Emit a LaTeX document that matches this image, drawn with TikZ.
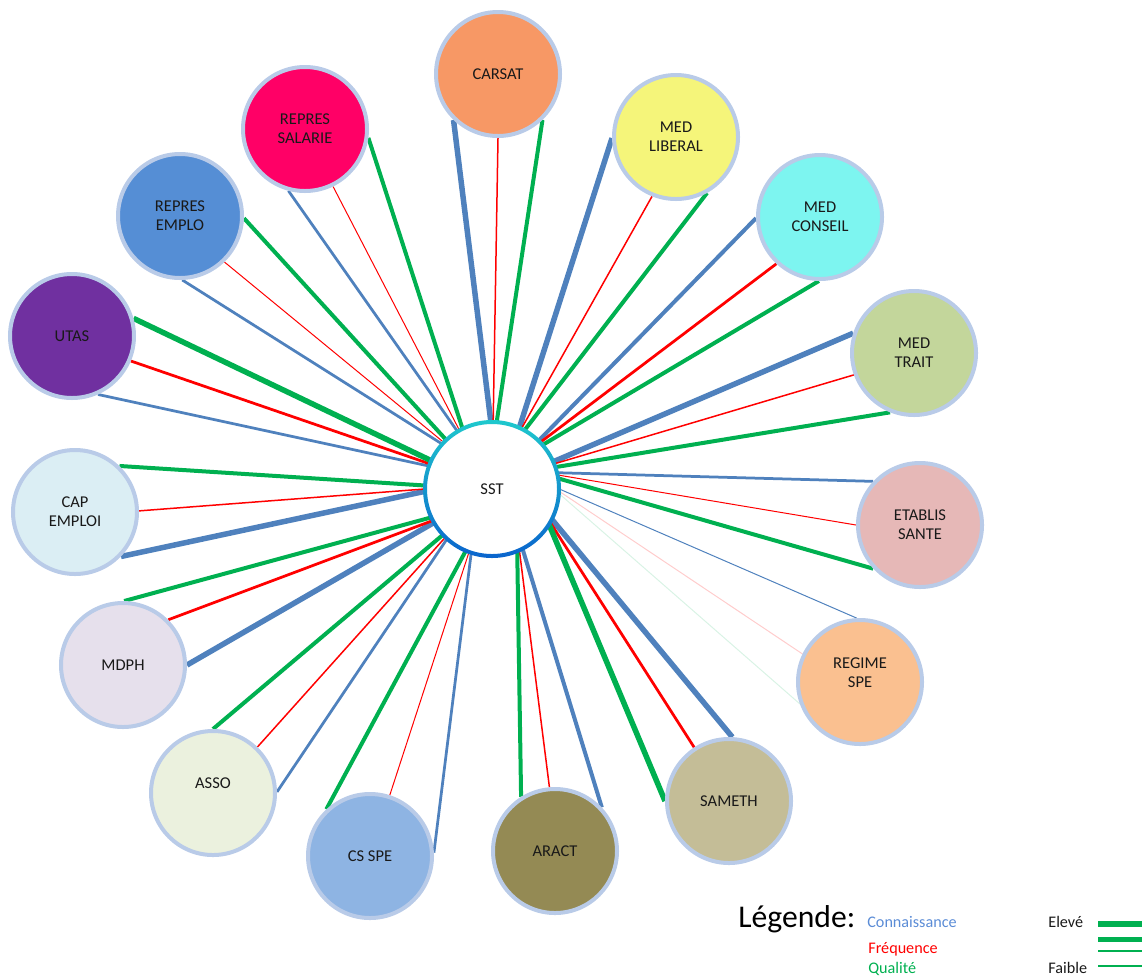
\documentclass[tikz,border=0pt]{standalone}
\usepackage{fontspec}
\setmainfont{Carlito}
\usepackage{tikz}
\usetikzlibrary{backgrounds}

\definecolor{connbleu}{RGB}{79,129,189}
\definecolor{freqrouge}{RGB}{255,0,0}
\definecolor{qualvert}{RGB}{0,176,80}
\definecolor{bord}{RGB}{185,203,232}
\definecolor{legbleu}{RGB}{91,140,214}
\definecolor{cCarsat}{RGB}{247,152,101}
\definecolor{cLiberal}{RGB}{245,245,122}
\definecolor{cConseil}{RGB}{125,245,240}
\definecolor{cTrait}{RGB}{195,214,155}
\definecolor{cEtablis}{RGB}{230,184,183}
\definecolor{cRegime}{RGB}{250,192,144}
\definecolor{cSameth}{RGB}{196,189,151}
\definecolor{cAract}{RGB}{148,138,84}
\definecolor{cCsspe}{RGB}{142,180,227}
\definecolor{cAsso}{RGB}{235,241,222}
\definecolor{cMdph}{RGB}{230,224,236}
\definecolor{cCap}{RGB}{219,238,244}
\definecolor{cUtas}{RGB}{112,48,160}
\definecolor{cEmplo}{RGB}{85,142,213}
\definecolor{cSalarie}{RGB}{255,0,102}

\tikzset{
  acteur/.style={circle, draw=bord, line width=0.8mm, minimum size=24.8mm,
    inner sep=0pt, align=center, text=black!90,
    font=\fontsize{9.4}{11}\selectfont},
  conn/.style={connbleu},
  freq/.style={freqrouge},
  qual/.style={qualvert},
  n0/.style={line width=0.2mm},
  n1/.style={line width=0.3mm},
  n2/.style={line width=0.55mm},
  n3/.style={line width=0.8mm},
  n4/.style={line width=1.1mm}
}

\begin{document}
\begin{tikzpicture}[x=0.2mm,y=-0.2mm]
        \useasboundingbox (0,0) rectangle (1145,978);

        \node[circle, fill=white, minimum size=26.8mm, inner sep=0pt, text=black!90,
          font=\fontsize{9.4}{11}\selectfont] (sst) at (492,489) {SST};
        \shade[top color={rgb,255:red,30;green,200;blue,205}, bottom color={rgb,255:red,10;green,100;blue,205},
          even odd rule] (sst.center) circle (13.8mm) circle (13.0mm);

        \node[acteur, fill=cCarsat] (carsat) at (498,74) {CARSAT};
        \node[acteur, fill=cLiberal] (liberal) at (676,137) {MED\\LIBERAL};
        \node[acteur, fill=cConseil] (conseil) at (820,217) {MED\\CONSEIL};
        \node[acteur, fill=cTrait] (trait) at (914,353) {MED\\TRAIT};
        \node[acteur, fill=cEtablis] (etablis) at (920,525) {ETABLIS\\SANTE};
        \node[acteur, fill=cRegime] (regime) at (860,682) {REGIME\\SPE\\\mbox{}};
        \node[acteur, fill=cSameth] (sameth) at (729,801) {SAMETH};
        \node[acteur, fill=cAract] (aract) at (555,851) {ARACT};
        \node[acteur, fill=cCsspe] (csspe) at (370,856) {CS SPE};
        \node[acteur, fill=cAsso] (asso) at (213,793) {ASSO\\\mbox{}};
        \node[acteur, fill=cMdph] (mdph) at (123,665) {MDPH};
        \node[acteur, fill=cCap] (cap) at (75,512) {CAP\\EMPLOI};
        \node[acteur, fill=cUtas] (utas) at (72,336) {UTAS};
        \node[acteur, fill=cEmplo] (emplo) at (180,216) {REPRES\\EMPLO};
        \node[acteur, fill=cSalarie] (salarie) at (305,129) {REPRES\\SALARIE};

        \begin{scope}[on background layer]
        % CARSAT
        \draw[conn, n4] (carsat.-134) -- (sst.91.5);
        \draw[freq, n1] (carsat.-90) -- (sst.89);
        \draw[qual, n3] (carsat.-46) -- (sst.86.5);
        % MED LIBERAL
        \draw[conn, n4] (liberal.-179) -- (sst.66.5);
        \draw[freq, n1] (liberal.-112) -- (sst.64);
        \draw[qual, n3] (liberal.-61) -- (sst.61.5);
        % MED CONSEIL
        \draw[conn, n3] (conseil.-179) -- (sst.46.5);
        \draw[freq, n2] (conseil.-133) -- (sst.44);
        \draw[qual, n3] (conseil.-91) -- (sst.41.5);
        % MED TRAIT
        \draw[conn, n4] (trait.162) -- (sst.24.5);
        \draw[freq, n1] (trait.200) -- (sst.22);
        \draw[qual, n3] (trait.248) -- (sst.19.5);
        % ETABLIS SANTE
        \draw[conn, n2] (etablis.137) -- (sst.14.5);
        \draw[freq, n0] (etablis.180) -- (sst.12);
        \draw[qual, n3] (etablis.223) -- (sst.9.5);
        % REGIME SPE
        \draw[conn, n0] (regime.93) -- (sst.0);
        \draw[freqrouge!20, n0] (regime.154) -- (sst.-2);
        \draw[qualvert!15, n0] (regime.200) -- (sst.-4);
        % SAMETH
        \draw[conn, n4] (sameth.87) -- (sst.-27.5);
        \draw[freq, n2] (sameth.123) -- (sst.-30);
        \draw[qual, n4] (sameth.180) -- (sst.-32.5);
        % ARACT
        \draw[conn, n3] (aract.43) -- (sst.-63.5);
        \draw[freq, n1] (aract.95) -- (sst.-66);
        \draw[qual, n3] (aract.122) -- (sst.-68.5);
        % CS SPE
        \draw[conn, n2] (csspe.3) -- (sst.252.5);
        \draw[freq, n0] (csspe.72) -- (sst.250);
        \draw[qual, n3] (csspe.133) -- (sst.247.5);
        % ASSO
        \draw[conn, n2] (asso.1) -- (sst.228.5);
        \draw[freq, n1] (asso.46) -- (sst.226);
        \draw[qual, n3] (asso.90) -- (sst.223.5);
        % MDPH
        \draw[conn, n4] (mdph.0) -- (sst.210.5);
        \draw[freq, n2] (mdph.45) -- (sst.208);
        \draw[qual, n3] (mdph.89) -- (sst.205.5);
        % CAP EMPLOI
        \draw[conn, n4] (cap.-44) -- (sst.182.5);
        \draw[freq, n1] (cap.1) -- (sst.180);
        \draw[qual, n3] (cap.46) -- (sst.177.5);
        % UTAS
        \draw[conn, n2] (utas.-66) -- (sst.160.5);
        \draw[freq, n2] (utas.-23) -- (sst.158);
        \draw[qual, n4] (utas.16) -- (sst.155.5);
        % REPRES EMPLO
        \draw[conn, n2] (emplo.-88) -- (sst.138.5);
        \draw[freq, n0] (emplo.-46) -- (sst.136);
        \draw[qual, n3] (emplo.-2) -- (sst.133.5);
        % REPRES SALARIE
        \draw[conn, n2] (salarie.-105) -- (sst.121.5);
        \draw[freq, n0] (salarie.-64) -- (sst.119);
        \draw[qual, n3] (salarie.-8) -- (sst.116.5);
        \end{scope}

        % legende
        \node[anchor=base west, inner sep=0pt, font=\fontsize{18}{20}\selectfont] (legende) at (738,927) {Légende:};
        \node[anchor=base west, inner sep=0pt, text=legbleu, font=\fontsize{9.2}{11}\selectfont] (connaissance) at (867,927) {Connaissance};
        \node[anchor=base west, inner sep=0pt, text=freqrouge, font=\fontsize{9.2}{11}\selectfont] (frequence) at (868,953) {Fréquence};
        \node[anchor=base west, inner sep=0pt, text=qualvert, font=\fontsize{9.2}{11}\selectfont] (qualite) at (868,973) {Qualité};
        \node[anchor=base west, inner sep=0pt, text=black!90, font=\fontsize{9.2}{11}\selectfont] (eleve) at (1048,927) {Elevé};
        \node[anchor=base west, inner sep=0pt, text=black!90, font=\fontsize{9.2}{11}\selectfont] (faible) at (1048,973) {Faible};
        \coordinate (l1) at (1098,924); \coordinate (r1) at (1142,924);
        \coordinate (l2) at (1098,939); \coordinate (r2) at (1142,939);
        \coordinate (l3) at (1098,951); \coordinate (r3) at (1142,951);
        \coordinate (l4) at (1098,966); \coordinate (r4) at (1142,966);
        \draw[qual, line width=1.2mm] (l1) -- (r1);
        \draw[qual, line width=1.0mm] (l2) -- (r2);
        \draw[qual, line width=0.3mm] (l3) -- (r3);
        \draw[qual, line width=0.25mm] (l4) -- (r4);
    \end{tikzpicture}
\end{document}
